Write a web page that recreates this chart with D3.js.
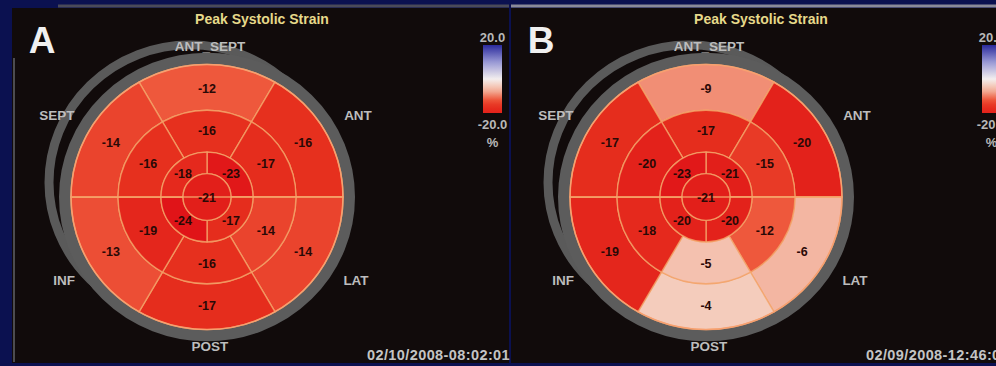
<!DOCTYPE html>
<html>
<head>
<meta charset="utf-8">
<script src="https://cdn.jsdelivr.net/npm/d3@7"></script>
<style>
html, body { margin: 0; padding: 0; background: #0b1150; }
svg { display: block; }
text { font-family: "Liberation Sans", Arial, sans-serif; font-weight: bold; }
</style>
</head>
<body>
<svg id="chart" width="996" height="366"></svg>
<script>
// wall names, clockwise from 12 o'clock
const wallNames = ["ANT_SEPT", "ANT", "LAT", "POST", "INF", "SEPT"];

// panel A: peak systolic strain (%)
const basalA = [-12, -16, -14, -17, -13, -14];
const midA = [-16, -17, -14, -16, -19, -16];
const apicalA = [-23, -17, -24, -18];
const apexA = -21;

// panel B
const basalB = [-9, -20, -6, -4, -19, -17];
const midB = [-17, -15, -12, -5, -18, -20];
const apicalB = [-21, -20, -20, -23];
const apexB = -21;

const letters = ["A", "B"];
const stamps = ["02/10/2008-08:02:01", "02/09/2008-12:46:01"];
const legendTicks = ["20.0", "-20.0"];
const legendDomain = [20, -20];

const svg = d3.select("#chart");
const W = 996, H = 366;

const color = d3.scaleLinear()
    .domain([-20, -16, -12, -8, -4, 0, 10, 20])
    .range(["#e3221b", "#e6301e", "#ee583c", "#f2a088", "#f4ccbc", "#f3eeee", "#9898d4", "#2a2a9c"]);

const a6 = d3.scaleLinear().domain([0, 6]).range([-Math.PI / 6, 2 * Math.PI - Math.PI / 6]);
const a4 = d3.scaleLinear().domain([0, 4]).range([0, 2 * Math.PI]);
const arc = d3.arc();

const R = { apex: 24, apical: 46, mid: 89, basal: 136 };
const squash = 0.975;

const panels = [
    { x0: 0, letter: letters[0], stamp: stamps[0], basal: basalA, mid: midA, apical: apicalA, apex: apexA,
      left: 12, right: 509, line: "#4a4a58" },
    { x0: 499, letter: letters[1], stamp: stamps[1], basal: basalB, mid: midB, apical: apicalB, apex: apexB,
      left: 511, right: W, line: "#8a8a98" }
];

// colour bar gradient
const defs = svg.append("defs");
const grad = defs.append("linearGradient").attr("id", "bar")
    .attr("x1", 0).attr("y1", 0).attr("x2", 0).attr("y2", 1);
const barScale = d3.scaleLinear().domain(legendDomain).range([0, 1]);
d3.range(20, -20.1, -2.5).forEach(v => {
    grad.append("stop").attr("offset", barScale(v)).attr("stop-color", color(v));
});

panels.forEach(p => {
    const g = svg.append("g");
    const cx = p.x0 + 207, cy = 197;

    g.append("rect")
        .attr("x", p.left).attr("y", 8)
        .attr("width", p.right - p.left).attr("height", 355)
        .attr("fill", "#110b0b");

    g.append("line")
        .attr("x1", p.x0 === 0 ? 58 : p.left).attr("x2", p.right)
        .attr("y1", 6).attr("y2", 6)
        .attr("stroke", p.line).attr("stroke-width", 3);

    if (p.x0 === 0) {
        g.append("line")
            .attr("x1", 14).attr("x2", 14).attr("y1", 58).attr("y2", 362)
            .attr("stroke", "#4c4c50").attr("stroke-width", 2);
    }

    g.append("text")
        .attr("x", p.x0 + 262).attr("y", 24)
        .attr("text-anchor", "middle")
        .attr("font-size", 14).attr("fill", "#e6d98a")
        .text("Peak Systolic Strain");

    g.append("text")
        .attr("x", p.x0 + 42).attr("y", 53)
        .attr("text-anchor", "middle")
        .attr("font-size", 37).attr("fill", "#f0f0f0")
        .text(p.letter);

    // bull's-eye
    const disc = g.append("g")
        .attr("transform", `translate(${cx},${cy}) scale(1,${squash})`);

    disc.append("circle")
        .attr("cx", -17).attr("cy", -15).attr("r", 141)
        .attr("fill", "none").attr("stroke", "#5a5a5a").attr("stroke-width", 9);

    disc.append("circle")
        .attr("r", 142)
        .attr("fill", "none").attr("stroke", "#5c5c5c").attr("stroke-width", 12);

    const rings = [
        { vals: p.basal, r0: R.mid, r1: R.basal, ang: a6, lr: 111 },
        { vals: p.mid, r0: R.apical, r1: R.mid, ang: a6, lr: 68 },
        { vals: p.apical, r0: R.apex, r1: R.apical, ang: a4, lr: 34 }
    ];

    rings.forEach(ring => {
        disc.append("g").selectAll("path")
            .data(ring.vals)
            .join("path")
            .attr("d", (v, i) => arc({
                innerRadius: ring.r0, outerRadius: ring.r1,
                startAngle: ring.ang(i), endAngle: ring.ang(i + 1)
            }))
            .attr("fill", v => color(v))
            .attr("stroke", "#f5a56a").attr("stroke-opacity", 0.8).attr("stroke-width", 1.4);
    });

    disc.append("circle")
        .attr("r", R.apex)
        .attr("fill", color(p.apex))
        .attr("stroke", "#f5a56a").attr("stroke-opacity", 0.8).attr("stroke-width", 1.4);

    disc.append("line")
        .attr("x1", -R.basal).attr("x2", R.basal)
        .attr("stroke", "#f5a56a").attr("stroke-opacity", 0.85).attr("stroke-width", 1.5);

    disc.append("circle")
        .attr("r", R.basal)
        .attr("fill", "none").attr("stroke", "#f7a070").attr("stroke-width", 1.5);

    // segment values
    const labels = g.append("g")
        .attr("font-size", 12.5).attr("fill", "#2a0906").attr("text-anchor", "middle");
    rings.forEach(ring => {
        ring.vals.forEach((v, i) => {
            const [px, py] = d3.pointRadial((ring.ang(i) + ring.ang(i + 1)) / 2, ring.lr);
            labels.append("text")
                .attr("x", cx + px).attr("y", cy + py * squash + 4.5)
                .text(v);
        });
    });
    labels.append("text").attr("x", cx).attr("y", cy + 4.5).text(p.apex);

    // wall names
    const wallPos = [[3, -146], [151, -77], [149, 88], [3, 154], [-143, 88], [-150, -77]];
    g.append("g").attr("font-size", 13.5).attr("fill", "#bdbdbd").attr("text-anchor", "middle")
        .selectAll("text")
        .data(wallNames)
        .join("text")
        .attr("x", (d, i) => cx + wallPos[i][0])
        .attr("y", (d, i) => cy + wallPos[i][1])
        .text(d => d);

    // colour bar
    const bx = p.x0 + 483;
    g.append("rect")
        .attr("x", bx).attr("y", 45).attr("width", 19).attr("height", 68)
        .attr("fill", "url(#bar)");
    const legend = g.append("g").attr("font-size", 13).attr("fill", "#b8b8b8").attr("text-anchor", "middle");
    legend.append("text").attr("x", bx + 9.5).attr("y", 42).text(legendTicks[0]);
    legend.append("text").attr("x", bx + 9.5).attr("y", 129).text(legendTicks[1]);
    legend.append("text").attr("x", bx + 9.5).attr("y", 147).text("%");

    g.append("text")
        .attr("x", p.x0 + 367).attr("y", 360)
        .attr("font-size", 14.5).attr("fill", "#c4c4c4")
        .attr("letter-spacing", 0.4)
        .text(p.stamp);
});
</script>
</body>
</html>
